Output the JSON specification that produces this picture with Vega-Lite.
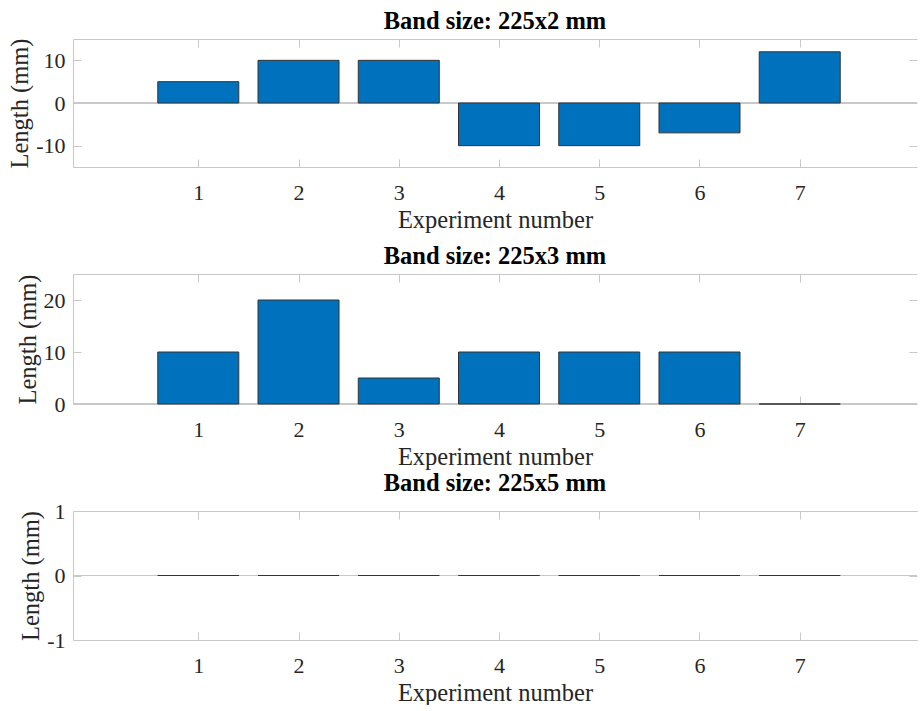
{
  "$schema": "https://vega.github.io/schema/vega-lite/v6.json",
  "padding": {"left": 7, "top": 8, "right": 0, "bottom": 0},
  "background": "white",
  "bounds": "flush",
  "spacing": 107,
  "config": {
    "font": "Liberation Serif",
    "view": {"stroke": null},
    "axis": {
      "grid": false,
      "domainColor": "#c8c8c8",
      "tickColor": "#c8c8c8",
      "domainWidth": 1,
      "tickWidth": 1,
      "tickSize": -8,
      "labelColor": "#262626",
      "titleColor": "#262626",
      "labelFont": "Liberation Serif",
      "titleFont": "Liberation Serif",
      "labelFontSize": 22,
      "titleFontSize": 24.5,
      "titleFontWeight": "normal",
      "labelExpr": "datum.value"
    },
    "title": {
      "font": "Liberation Serif",
      "fontSize": 24.5,
      "fontWeight": "bold",
      "color": "#000000",
      "baseline": "alphabetic",
      "offset": 4,
      "anchor": "middle"
    }
  },
  "datasets": {
    "b2": [
      {"exp": 1, "len": 5}, {"exp": 2, "len": 10}, {"exp": 3, "len": 10}, {"exp": 4, "len": -10},
      {"exp": 5, "len": -10}, {"exp": 6, "len": -7}, {"exp": 7, "len": 12}
    ],
    "b3": [
      {"exp": 1, "len": 10}, {"exp": 2, "len": 20}, {"exp": 3, "len": 5}, {"exp": 4, "len": 10},
      {"exp": 5, "len": 10}, {"exp": 6, "len": 10}, {"exp": 7, "len": 0}
    ],
    "b5": [
      {"exp": 1, "len": 0}, {"exp": 2, "len": 0}, {"exp": 3, "len": 0}, {"exp": 4, "len": 0},
      {"exp": 5, "len": 0}, {"exp": 6, "len": 0}, {"exp": 7, "len": 0}
    ]
  },
  "vconcat": [
    {
      "title": "Band size: 225x2 mm",
      "width": 844, "height": 128,
      "data": {"name": "b2"},
      "layer": [
        {"mark": {"type": "rule", "color": "#c8c8c8", "strokeWidth": 1},
         "encoding": {"y": {"datum": 0, "type": "quantitative", "axis": null}}},
        {"mark": {"type": "bar", "width": 81, "fill": "#0072BD", "stroke": "#333333", "strokeWidth": 1},
         "encoding": {
           "x": {"field": "exp", "type": "quantitative", "scale": {"domain": [-0.2, 8.12], "nice": false, "zero": false},
                 "axis": {"orient": "bottom", "values": [1,2,3,4,5,6,7], "title": "Experiment number", "labelPadding": 23, "titlePadding": 5}},
           "y": {"field": "len", "type": "quantitative", "scale": {"domain": [-15, 15], "nice": false},
                 "axis": {"orient": "left", "values": [-10, 0, 10], "title": "Length (mm)", "labelPadding": 16, "titlePadding": 3}}
         }},
        {"mark": {"type": "point", "opacity": 0},
         "encoding": {
           "x": {"field": "exp", "type": "quantitative", "axis": {"orient": "top", "values": [1,2,3,4,5,6,7], "labels": false, "title": null, "minExtent": 0}},
           "y": {"field": "len", "type": "quantitative", "axis": {"orient": "right", "values": [-10, 0, 10], "labels": false, "title": null, "domain": false, "minExtent": 0}}
         }}
      ],
      "resolve": {"axis": {"x": "independent", "y": "independent"}}
    },
    {
      "title": "Band size: 225x3 mm",
      "width": 844, "height": 130,
      "data": {"name": "b3"},
      "layer": [
        {"mark": {"type": "rule", "color": "#c8c8c8", "strokeWidth": 1},
         "encoding": {"y": {"datum": 0, "type": "quantitative", "axis": null}}},
        {"mark": {"type": "bar", "width": 81, "fill": "#0072BD", "stroke": "#333333", "strokeWidth": 1},
         "encoding": {
           "x": {"field": "exp", "type": "quantitative", "scale": {"domain": [-0.2, 8.12], "nice": false, "zero": false},
                 "axis": {"orient": "bottom", "values": [1,2,3,4,5,6,7], "title": "Experiment number", "labelPadding": 23, "titlePadding": 5}},
           "y": {"field": "len", "type": "quantitative", "scale": {"domain": [0, 25], "nice": false},
                 "axis": {"orient": "left", "values": [0, 10, 20], "title": "Length (mm)", "labelPadding": 16, "titlePadding": 3}}
         }},
        {"mark": {"type": "point", "opacity": 0},
         "encoding": {
           "x": {"field": "exp", "type": "quantitative", "axis": {"orient": "top", "values": [1,2,3,4,5,6,7], "labels": false, "title": null, "minExtent": 0}},
           "y": {"field": "len", "type": "quantitative", "axis": {"orient": "right", "values": [0, 10, 20], "labels": false, "title": null, "domain": false, "minExtent": 0}}
         }}
      ],
      "resolve": {"axis": {"x": "independent", "y": "independent"}}
    },
    {
      "title": "Band size: 225x5 mm",
      "width": 844, "height": 129,
      "data": {"name": "b5"},
      "layer": [
        {"mark": {"type": "rule", "color": "#c8c8c8", "strokeWidth": 1},
         "encoding": {"y": {"datum": 0, "type": "quantitative", "axis": null}}},
        {"mark": {"type": "bar", "width": 81, "fill": "#0072BD", "stroke": "#333333", "strokeWidth": 1},
         "encoding": {
           "x": {"field": "exp", "type": "quantitative", "scale": {"domain": [-0.2, 8.12], "nice": false, "zero": false},
                 "axis": {"orient": "bottom", "values": [1,2,3,4,5,6,7], "title": "Experiment number", "labelPadding": 23, "titlePadding": 5}},
           "y": {"field": "len", "type": "quantitative", "scale": {"domain": [-1, 1], "nice": false},
                 "axis": {"orient": "left", "values": [-1, 0, 1], "title": "Length (mm)", "labelPadding": 16, "titlePadding": 3}}
         }},
        {"mark": {"type": "point", "opacity": 0},
         "encoding": {
           "x": {"field": "exp", "type": "quantitative", "axis": {"orient": "top", "values": [1,2,3,4,5,6,7], "labels": false, "title": null, "minExtent": 0}},
           "y": {"field": "len", "type": "quantitative", "axis": {"orient": "right", "values": [-1, 0, 1], "labels": false, "title": null, "domain": false, "minExtent": 0}}
         }}
      ],
      "resolve": {"axis": {"x": "independent", "y": "independent"}}
    }
  ]
}
